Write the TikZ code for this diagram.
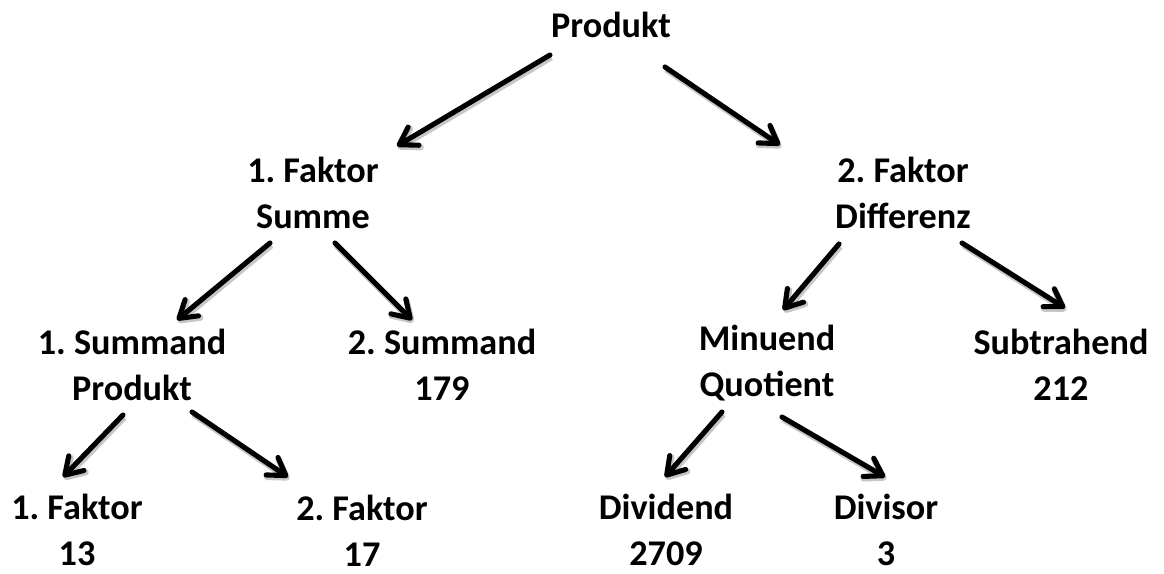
\documentclass[tikz,border=0pt]{standalone}
\usepackage{fontspec}
\setmainfont{Carlito}
\usetikzlibrary{arrows.meta,calc}
\frenchspacing
\begin{document}
\begin{tikzpicture}[x=0.02cm,y=-0.02cm,
  lbl/.style={align=center,inner sep=0pt,font=\fontsize{20.6pt}{26pt}\selectfont\bfseries\frenchspacing},
  arr/.style={line width=2.9pt,line cap=round,line join=round,
    -{Straight Barb[length=9.5pt,width=12pt,round]},
    preaction={draw=black!22,line width=3.6pt,transform canvas={shift={(0.7pt,-1.3pt)}}}}]
\useasboundingbox (0,0) rectangle (1164,574);
\node[lbl] (p)   at (611,25)  {Produkt};
\node[lbl] (f1)  at (313,193) {1. Faktor\\Summe};
\node[lbl] (f2)  at (903,193) {2. Faktor\\Differenz};
\node[lbl] (s1)  at (132,365) {1. Summand\\Produkt};
\node[lbl] (s2)  at (442,365) {2. Summand\\179};
\node[lbl] (m)   at (767,363) {Minuend\\Quotient};
\node[lbl] (sub) at (1061,365) {Subtrahend\\212};
\node[lbl] (b1)  at (77,530)  {1. Faktor\\13};
\node[lbl] (b2)  at (362,531) {2. Faktor\\17};
\node[lbl] (dvd) at (666,530) {Dividend\\2709};
\node[lbl] (dvs) at (886,530) {Divisor\\3};
\draw[arr] ($(p)+(-61,30)$) -- ($(f1)+(84,-47)$);
\draw[arr] ($(p)+(54,42)$) -- ($(f2)+(-123,-48)$);
\draw[arr] ($(f1)+(-43,50)$) -- ($(s1)+(45,-45)$);
\draw[arr] ($(f1)+(22,50)$) -- ($(s2)+(-30,-45)$);
\draw[arr] ($(f2)+(-64,51)$) -- ($(m)+(16,-53)$);
\draw[arr] ($(f2)+(59,50)$) -- ($(sub)+(4,-57)$);
\draw[arr] ($(s1)+(-9,50)$) -- ($(b1)+(-14,-53)$);
\draw[arr] ($(s1)+(60,47)$) -- ($(b2)+(-74,-54)$);
\draw[arr] ($(m)+(-45,49)$) -- ($(dvd)+(-1,-53)$);
\draw[arr] ($(m)+(15,54)$) -- ($(dvs)+(-1,-53)$);
\end{tikzpicture}
\end{document}
